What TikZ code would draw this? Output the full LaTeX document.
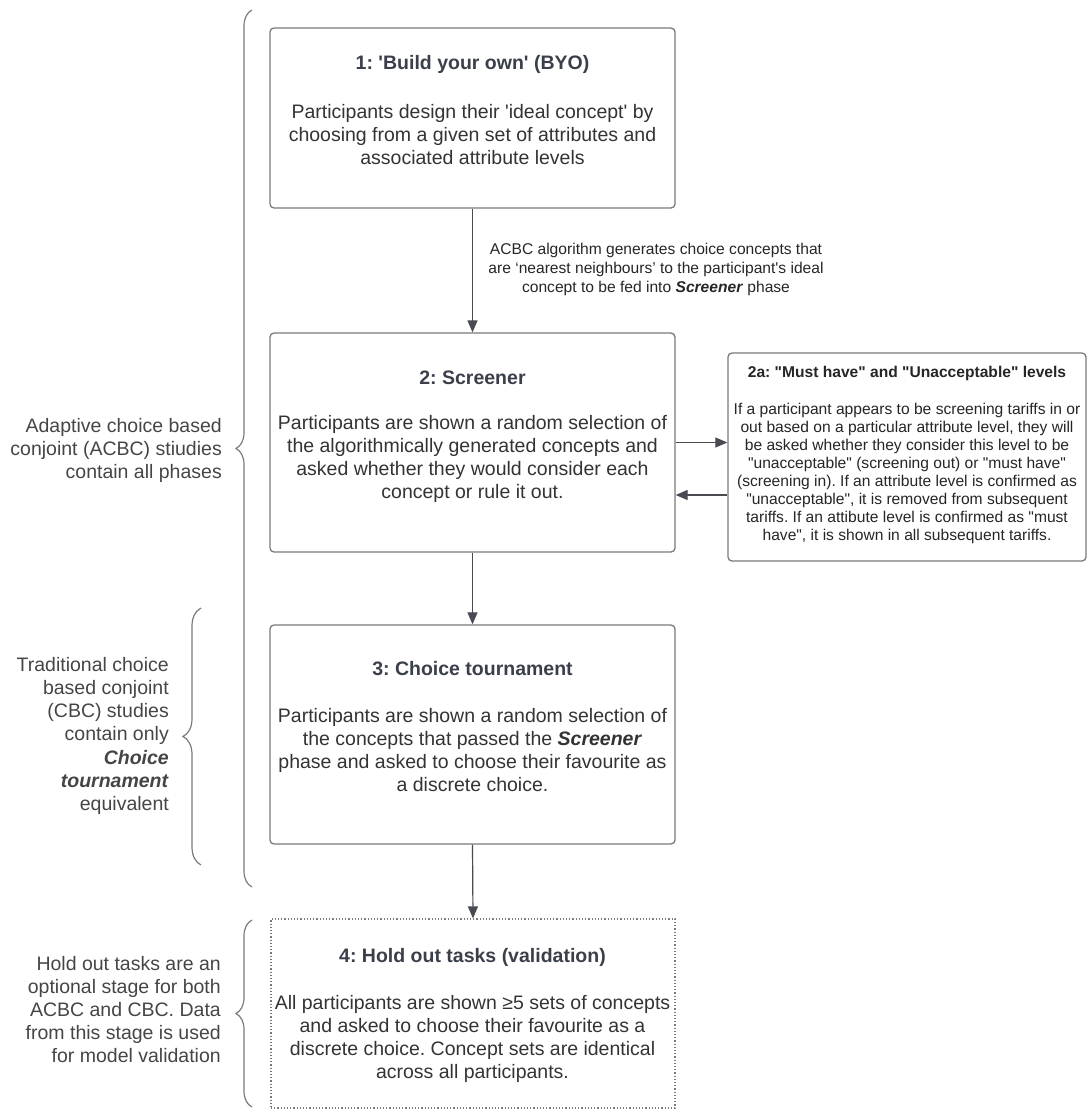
\documentclass[tikz,border=0pt]{standalone}
\usepackage{fontspec}
\setmainfont{Liberation Sans}[Ligatures=TeXOff]
\usetikzlibrary{arrows.meta,decorations.pathreplacing}
\frenchspacing
\definecolor{bordercol}{HTML}{7A7A7A}
\definecolor{arrowcol}{HTML}{484B52}
\definecolor{titlecol}{HTML}{3A3F4A}
\definecolor{bodycol}{HTML}{333333}
\definecolor{sidecol}{HTML}{454545}
\tikzset{
  box/.style={draw=bordercol, line width=1.3pt, rounded corners=4pt, fill=white, inner sep=0pt},
  dotbox/.style={draw=bordercol, line width=1.2pt, dotted, inner sep=0pt},
  arr/.style={draw=arrowcol, line width=1.2pt, -{Triangle[length=12pt,width=10pt]}},
  ttl/.style={font={\frenchspacing\fontsize{19.5}{23}\selectfont\bfseries}, text=titlecol, anchor=base, inner sep=0pt},
  body/.style={font={\frenchspacing\fontsize{19.5}{23.2}\selectfont}, text=bodycol, anchor=base, align=center, inner sep=0pt},
  small/.style={font={\frenchspacing\fontsize{15.6}{18}\selectfont}, text=black!85, anchor=base, align=center, inner sep=0pt},
  smallttl/.style={font={\frenchspacing\fontsize{15.6}{18}\selectfont\bfseries}, text=black!85, anchor=base, inner sep=0pt},
  side/.style={font={\frenchspacing\fontsize{19.5}{23.2}\selectfont}, text=sidecol, anchor=base east, align=right, inner sep=0pt},
  curly/.style={draw=bordercol, line width=1.2pt, decorate, decoration={brace, amplitude=16pt}},
}
\begin{document}
\begin{tikzpicture}[x=1pt,y=-1pt]
\useasboundingbox (0,0) rectangle (1088,1111);

% boxes
\node[box, minimum width=405pt, minimum height=180pt] (b1) at (472.5,118) {};
\node[box, minimum width=405pt, minimum height=219pt] (b2) at (472.5,442.5) {};
\node[box, minimum width=358pt, minimum height=208pt] (b2a) at (907,457) {};
\node[box, minimum width=405pt, minimum height=219pt] (b3) at (472.5,734.5) {};
\node[dotbox, minimum width=404pt, minimum height=189pt] (b4) at (473,1013.5) {};

% box 1 (multi-line nodes: base anchor = last line)
\node[ttl] (t1) at (472.5,69) {1: 'Build your own' (BYO)};
\node[body] (x1) at (472.5,164.4) {Participants design their 'ideal concept' by\\choosing from a given set of attributes and\\associated attribute levels};

% box 2
\node[ttl] (t2) at (472.5,384) {2: Screener};
\node[body] (x2) at (472.5,498.6) {Participants are shown a random selection of\\the algorithmically generated concepts and\\asked whether they would consider each\\concept or rule it out.};

% box 2a
\node[smallttl] (t2a) at (907,377) {2a: "Must have" and "Unacceptable" levels};
\node[small] (x2a) at (907,540) {If a participant appears to be screening tariffs in or\\out based on a particular attribute level, they will\\be asked whether they consider this level to be\\"unacceptable" (screening out) or "must have"\\(screening in). If an attribute level is confirmed as\\"unacceptable", it is removed from subsequent\\tariffs. If an attibute level is confirmed as "must\\have", it is shown in all subsequent tariffs.};

% box 3
\node[ttl] (t3) at (472.5,675) {3: Choice tournament};
\node[body] (x3) at (472.5,791.6) {Participants are shown a random selection of\\the concepts that passed the \textbf{\textit{Screener}}\\phase and asked to choose their favourite as\\a discrete choice.};

% box 4
\node[ttl] (t4) at (472.5,962) {4: Hold out tasks (validation)};
\node[body] (x4) at (472.5,1078.6) {All participants are shown ≥5 sets of concepts\\and asked to choose their favourite as a\\discrete choice. Concept sets are identical\\across all participants.};

% arrows
\coordinate (la) at ([yshift=-38pt]b2a.west);
\draw[arr] (b1.south) -- (b2.north);
\draw[arr] (b2.south) -- (b3.north);
\draw[arr] (b3.south) -- (b4.north);
\draw[arr] (b2.east) -- (b2a.west |- b2.east);
\draw[arr] (la) -- (b2.east |- la);
\node[small, font={\frenchspacing\fontsize{15.6}{19}\selectfont}] (lab) at (656,292) {ACBC algorithm generates choice concepts that\\are ‘nearest neighbours’ to the participant's ideal\\concept to be fed into \textbf{\textit{Screener}} phase};

% braces
\coordinate (bA1) at (252,887);
\coordinate (bA2) at (252,10);
\coordinate (bB1) at (201,865);
\coordinate (bB2) at (201,608);
\coordinate (bC1) at (252,1107);
\coordinate (bC2) at (252,920);
\draw[curly] (bA1) -- (bA2);
\draw[curly, decoration={brace, amplitude=18pt}] (bB1) -- (bB2);
\draw[curly] (bC1) -- (bC2);

% side texts
\node[side] (sA) at (222,478.4) {Adaptive choice based\\conjoint (ACBC) stiudies\\contain all phases};
\node[side, font={\frenchspacing\fontsize{19.5}{23.3}\selectfont}] (sB) at (169,810.8) {Traditional choice\\based conjoint\\(CBC) studies\\contain only\\\textbf{\textit{Choice}}\\\textbf{\textit{tournament}}\\equivalent};
\node[side] (sC) at (221,1062.8) {Hold out tasks are an\\optional stage for both\\ACBC and CBC. Data\\from this stage is used\\for model validation};
\end{tikzpicture}
\end{document}
